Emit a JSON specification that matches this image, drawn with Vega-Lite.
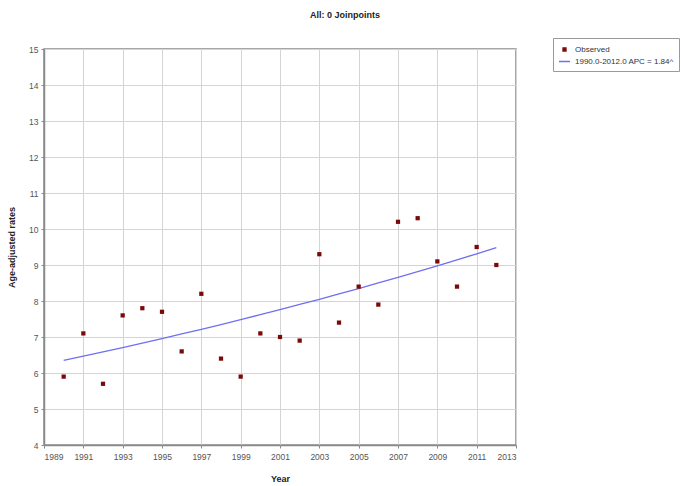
{
  "$schema": "https://vega.github.io/schema/vega-lite/v6.json",
  "autosize": {"type": "none"},
  "padding": {"left": 44, "top": 49, "right": 165, "bottom": 41},
  "width": 472,
  "height": 396,
  "background": "white",
  "config": {
    "font": "Liberation Sans",
    "view": {"stroke": "#8a8a8a", "strokeWidth": 1.5},
    "axis": {
      "gridColor": "#d4d4d4",
      "gridWidth": 1,
      "domainColor": "#8a8a8a",
      "domainWidth": 1.5,
      "tickColor": "#8a8a8a",
      "tickSize": 3,
      "labelColor": "#555555",
      "labelFontSize": 8.5,
      "titleFontSize": 9,
      "titleFontWeight": "bold",
      "titleColor": "#222222"
    }
  },
  "title": {
    "text": "All: 0 Joinpoints",
    "fontSize": 9,
    "fontWeight": "bold",
    "color": "#222222",
    "anchor": "middle",
    "dx": 65,
    "offset": 18
  },
  "datasets": {
    "observed": [
      {"year": 1990, "rate": 5.9, "series": "Observed"},
      {"year": 1991, "rate": 7.1, "series": "Observed"},
      {"year": 1992, "rate": 5.7, "series": "Observed"},
      {"year": 1993, "rate": 7.6, "series": "Observed"},
      {"year": 1994, "rate": 7.8, "series": "Observed"},
      {"year": 1995, "rate": 7.7, "series": "Observed"},
      {"year": 1996, "rate": 6.6, "series": "Observed"},
      {"year": 1997, "rate": 8.2, "series": "Observed"},
      {"year": 1998, "rate": 6.4, "series": "Observed"},
      {"year": 1999, "rate": 5.9, "series": "Observed"},
      {"year": 2000, "rate": 7.1, "series": "Observed"},
      {"year": 2001, "rate": 7.0, "series": "Observed"},
      {"year": 2002, "rate": 6.9, "series": "Observed"},
      {"year": 2003, "rate": 9.3, "series": "Observed"},
      {"year": 2004, "rate": 7.4, "series": "Observed"},
      {"year": 2005, "rate": 8.4, "series": "Observed"},
      {"year": 2006, "rate": 7.9, "series": "Observed"},
      {"year": 2007, "rate": 10.2, "series": "Observed"},
      {"year": 2008, "rate": 10.3, "series": "Observed"},
      {"year": 2009, "rate": 9.1, "series": "Observed"},
      {"year": 2010, "rate": 8.4, "series": "Observed"},
      {"year": 2011, "rate": 9.5, "series": "Observed"},
      {"year": 2012, "rate": 9.0, "series": "Observed"}
    ],
    "trend": [
      {"year": 1990, "rate": 6.35, "series": "1990.0-2012.0 APC = 1.84^"},
      {"year": 1991, "rate": 6.467, "series": "1990.0-2012.0 APC = 1.84^"},
      {"year": 1992, "rate": 6.586, "series": "1990.0-2012.0 APC = 1.84^"},
      {"year": 1993, "rate": 6.707, "series": "1990.0-2012.0 APC = 1.84^"},
      {"year": 1994, "rate": 6.83, "series": "1990.0-2012.0 APC = 1.84^"},
      {"year": 1995, "rate": 6.956, "series": "1990.0-2012.0 APC = 1.84^"},
      {"year": 1996, "rate": 7.084, "series": "1990.0-2012.0 APC = 1.84^"},
      {"year": 1997, "rate": 7.214, "series": "1990.0-2012.0 APC = 1.84^"},
      {"year": 1998, "rate": 7.347, "series": "1990.0-2012.0 APC = 1.84^"},
      {"year": 1999, "rate": 7.482, "series": "1990.0-2012.0 APC = 1.84^"},
      {"year": 2000, "rate": 7.62, "series": "1990.0-2012.0 APC = 1.84^"},
      {"year": 2001, "rate": 7.76, "series": "1990.0-2012.0 APC = 1.84^"},
      {"year": 2002, "rate": 7.903, "series": "1990.0-2012.0 APC = 1.84^"},
      {"year": 2003, "rate": 8.048, "series": "1990.0-2012.0 APC = 1.84^"},
      {"year": 2004, "rate": 8.196, "series": "1990.0-2012.0 APC = 1.84^"},
      {"year": 2005, "rate": 8.347, "series": "1990.0-2012.0 APC = 1.84^"},
      {"year": 2006, "rate": 8.501, "series": "1990.0-2012.0 APC = 1.84^"},
      {"year": 2007, "rate": 8.657, "series": "1990.0-2012.0 APC = 1.84^"},
      {"year": 2008, "rate": 8.816, "series": "1990.0-2012.0 APC = 1.84^"},
      {"year": 2009, "rate": 8.979, "series": "1990.0-2012.0 APC = 1.84^"},
      {"year": 2010, "rate": 9.144, "series": "1990.0-2012.0 APC = 1.84^"},
      {"year": 2011, "rate": 9.312, "series": "1990.0-2012.0 APC = 1.84^"},
      {"year": 2012, "rate": 9.484, "series": "1990.0-2012.0 APC = 1.84^"}
    ]
  },
  "encoding": {
    "x": {
      "field": "year",
      "type": "quantitative",
      "title": "Year",
      "scale": {"domain": [1989, 2013], "nice": false, "zero": false},
      "axis": {
        "values": [1989, 1991, 1993, 1995, 1997, 1999, 2001, 2003, 2005, 2007, 2009, 2011, 2013],
        "format": "d",
        "labelPadding": 4,
        "titlePadding": 14
      }
    },
    "y": {
      "field": "rate",
      "type": "quantitative",
      "title": "Age-adjusted rates",
      "scale": {"domain": [4, 15], "nice": false, "zero": false},
      "axis": {
        "values": [4, 5, 6, 7, 8, 9, 10, 11, 12, 13, 14, 15],
        "labelPadding": 3,
        "titlePadding": 12
      }
    },
    "color": {
      "field": "series",
      "type": "nominal",
      "scale": {
        "domain": ["Observed", "1990.0-2012.0 APC = 1.84^"],
        "range": ["#7a0a0a", "#6f6ff2"]
      },
      "legend": {
        "title": null,
        "orient": "none",
        "legendX": 509,
        "legendY": -11,
        "strokeColor": "#9a9a9a",
        "padding": 5,
        "labelFontSize": 8,
        "labelColor": "#333333",
        "symbolSize": 60,
        "rowPadding": 1,
        "labelOffset": 4,
        "encode": {
          "symbols": {
            "update": {
              "stroke": {"scale": "color", "field": "value"},
              "strokeWidth": {"value": 1.5},
              "size": {"signal": "datum.value === 'Observed' ? 8 : 120"}
            }
          }
        }
      }
    }
  },
  "layer": [
    {
      "data": {"name": "trend"},
      "mark": {"type": "line", "strokeWidth": 1.3}
    },
    {
      "data": {"name": "observed"},
      "mark": {"type": "point", "filled": true, "opacity": 1, "size": 18},
      "encoding": {
        "shape": {
          "field": "series",
          "type": "nominal",
          "scale": {
            "domain": ["Observed", "1990.0-2012.0 APC = 1.84^"],
            "range": ["square", "stroke"]
          },
          "legend": {
            "title": null,
            "orient": "none",
            "legendX": 509,
            "legendY": -11
          }
        }
      }
    }
  ]
}
